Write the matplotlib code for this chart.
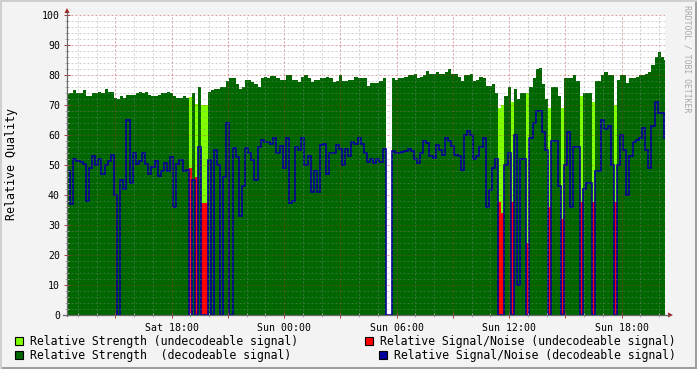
import numpy as np
import matplotlib
matplotlib.use("Agg")
import matplotlib.pyplot as plt
from matplotlib.patches import Rectangle, Polygon
from matplotlib.lines import Line2D

# ---------------- data (10-minute steps, starting Sat 12:25) ----------------
start_hour = 12 + 25 / 60          # hours since Sat 00:00
step_hours = 10 / 60

strength = [
    74, 74, 75, 74, 74, 75, 73, 73, 74, 74, 74.5, 74, 75.5, 74.5, 74.5, 72.5, 72, 73, 72.5, 73.5,
    73.5, 73.5, 74, 74.5, 74, 74.5, 73.5, 73, 73, 73.5, 74, 74, 74.5, 74, 73, 72.5, 72.5, 73, 72.5,
    72.8, 74, 70.5, 76, 70, 70, 74.5, 75, 75.5, 75.5, 76, 76, 78, 79,
    79, 77, 75.5, 76, 78.3, 78.3, 77.8, 77, 76, 79, 79.5, 79, 79.7, 79.7, 79, 78.3, 78.3, 80, 80, 78.3,
    78.3, 77.8, 79.5, 80, 79, 77.8, 78.3, 78.3, 79, 79, 79.5, 79, 77.8, 78, 80, 78, 78, 78.3, 78.3, 79.5,
    79, 79,
    79, 76.5, 77.4, 77.4, 77.5, 78, 79, None, None, 79, 78.5, 79, 79, 79.4, 80, 80, 80.5, 79, 79.4, 80,
    81.5, 80.5, 80.5, 81, 80.5, 80.5, 81, 81.9, 80.5, 80.5, 79.5, 78, 80, 80, 80.5, 78, 78.3, 79.4, 79,
    76.5, 76.5, 77, 74,
    69, 70, 73, 76, 71, 75.5, 72, 74, 74, 74, 76, 79, 82, 82.5, 77, 72, 69, 76, 76, 73,
    69, 79, 79, 79, 80, 78, 73, 74, 74, 74, 71, 78, 78, 80, 81, 80, 80, 70, 78.3, 80,
    80, 77.4, 79, 79, 79.5, 80, 80, 80.5, 81, 83.3, 86, 87.8, 86, 85,
]

signal_noise = [
    48, 37, 52, 51.5, 51, 50.5, 38, 49, 53, 50, 52, 47, 50, 51.5, 53.5, 40, 0, 45, 42, 65,
    44, 54, 50.5, 51.5, 54, 50.5, 47, 49.5, 51.5, 46.5, 48, 50.8, 48, 52.8, 36, 50.5, 51.7, 48, 48.5,
    49, 45, 46, 56, 37.5, 37.5, 51.7, 0, 55, 50, 0, 46, 64, 0,
    55.6, 52.8, 33, 43, 55.6, 54, 51.7, 45, 56, 58.3, 57.8, 57.8, 57, 58.9, 54, 56.5, 49, 58.9, 37.2, 38,
    56, 55, 58.9, 50, 53, 41, 48, 41, 56.7, 57, 47, 54, 54, 56.7, 55.5, 50, 55.5, 53, 57.8, 57,
    58.9, 57,
    54, 51, 52, 50.8, 52, 51, 55.5, 0, 0, 54.8, 54, 54, 54.5, 54.8, 55.5, 54.8, 52, 50.6, 54, 58,
    57.2, 53, 52.5, 56.7, 55, 53.5, 58.9, 58, 56.5, 53.5, 53, 48.3, 60, 61.5, 60, 52, 53, 56, 59,
    36, 41.7, 49, 52,
    37.8, 34, 50, 54, 37.8, 60, 10, 52, 52, 24, 59, 64, 68, 68, 61, 55, 36, 58, 58, 43,
    32, 50, 61, 36, 56, 56, 37.8, 42, 44, 44, 37.8, 48, 48, 65, 62, 63, 50, 37.8, 50, 60,
    55, 40, 53, 57.8, 58.5, 59, 62.2, 55, 49, 63, 71, 67.5, 67.5, 59,
]

# D = decodeable, U = undecodeable, - = no data (run-length encoded)
status_runs = [
    ("D", 39), ("U", 1), ("D", 1), ("U", 1), ("D", 1), ("U", 2), ("D", 57), ("-", 2),
    ("D", 34), ("U", 2), ("D", 2), ("U", 1), ("D", 4), ("U", 1), ("D", 6), ("U", 1),
    ("D", 3), ("U", 1), ("D", 5), ("U", 1), ("D", 3), ("U", 1), ("D", 6), ("U", 1), ("D", 16),
]

legend_labels = [
    "Relative Strength (undecodeable signal)",
    "Relative Strength  (decodeable signal)",
    "Relative Signal/Noise (undecodeable signal)",
    "Relative Signal/Noise (decodeable signal)",
]
y_label = "Relative Quality"
watermark = "RRDTOOL / TOBI OETIKER"

# ---------------- derived series ----------------
status = np.array([s for s, n in status_runs for _ in range(n)])
st = np.array([np.nan if v is None else v for v in strength], dtype=float)
sn = np.array(signal_noise, dtype=float)
n = len(st)
edges = start_hour + np.arange(n + 1) * step_hours

dec = status == "D"
und = status == "U"
st0 = np.nan_to_num(st)
dark_h = np.where(dec, st0, 0.0)
light_h = np.where(und, st0, 0.0)
red_h = np.where(und, sn, 0.0)
blue_v = np.where(dec, sn, 0.0)

# ---------------- styling ----------------
W, H = 697, 369
C_DARK = "#006600"
C_LIGHT = "#80FF00"
C_RED = "#FF0000"
C_BLUE = "#000099"
MONO = "DejaVu Sans Mono"

def P(x, y):
    return (x / W, 1 - y / H)

fig = plt.figure(figsize=(W / 100, H / 100), dpi=100, facecolor="#F3F3F3")
ax = fig.add_axes([67 / W, (H - 315) / H, 598 / W, 300 / H])
ax.set_facecolor("white")

ax.stairs(dark_h, edges, fill=True, color=C_DARK, lw=0, zorder=1)
ax.stairs(light_h, edges, fill=True, color=C_LIGHT, lw=0, zorder=1.1)
ax.stairs(red_h, edges, fill=True, color=C_RED, lw=0, zorder=1.2)
ax.stairs(blue_v, edges, baseline=None, color=C_BLUE, lw=1.2, zorder=1.3)

ax.set_xlim(start_hour, start_hour + 598 / 18.75)
ax.set_ylim(0, 100)

xmaj = np.arange(15, 45, 3)
ax.set_xticks(xmaj)
ax.set_xticks(np.arange(13, 45, 1), minor=True)
xlabels = []
for h in xmaj:
    if h % 6 == 0:
        day = "Sat" if h < 24 else "Sun"
        xlabels.append(f"{day} {int(h % 24):02d}:00")
    else:
        xlabels.append("")
ax.set_xticklabels(xlabels, fontfamily=MONO, fontsize=7.1)
ax.set_yticks(np.arange(0, 101, 10))
ax.set_yticks(np.arange(0, 101, 2), minor=True)
ax.set_yticklabels([str(v) for v in range(0, 101, 10)], fontfamily=MONO, fontsize=7.1)

dash = (0, (2.0, 2.0))
ax.grid(which="minor", color="#8C8C8C", alpha=0.4, lw=0.72, ls=dash)
ax.grid(which="major", color="#B03030", alpha=0.45, lw=0.72, ls=dash)
ax.set_axisbelow(False)

ax.tick_params(which="major", axis="both", direction="inout", length=4, width=0.72,
               color="#A04040", pad=3)
ax.tick_params(which="minor", axis="both", direction="inout", length=2.5, width=0.72,
               color="#B0B0B0")
ax.tick_params(axis="x", which="major", pad=3.5)
for s in ax.spines.values():
    s.set_visible(False)

# axis lines + arrows
fig.add_artist(Line2D(*zip(P(67, 316), P(67, 12)), color="#6A6A6A", lw=0.9))
fig.add_artist(Line2D(*zip(P(63, 315), P(669, 315)), color="#6A6A6A", lw=0.9))
fig.add_artist(Polygon([P(64.5, 13), P(69.5, 13), P(67, 8)], closed=True,
                       facecolor="#A02020", edgecolor="none"))
fig.add_artist(Polygon([P(668, 312.5), P(668, 317.5), P(673, 315)], closed=True,
                       facecolor="#A02020", edgecolor="none"))

# y label and watermark
fig.text(*P(12, 164), y_label, rotation=90, ha="center", va="center",
         fontfamily=MONO, fontsize=8.4)
fig.text(*P(687, 5), watermark, rotation=270, ha="center", va="top",
         fontfamily=MONO, fontsize=5.9, color="#A8A8A8")

# legend
legend_items = [
    (15, 341, 30, C_LIGHT, legend_labels[0]),
    (15, 355, 30, C_DARK, legend_labels[1]),
    (365, 341, 380, C_RED, legend_labels[2]),
    (379, 355, 394, C_BLUE, legend_labels[3]),
]
for bx, by, tx, col, lab in legend_items:
    x0, y0 = P(bx, by + 4)
    fig.add_artist(Rectangle((x0, y0), 8 / W, 8 / H, transform=fig.transFigure,
                             facecolor=col, edgecolor="black", lw=0.8))
    fig.text(*P(tx, by), lab, ha="left", va="center", fontfamily=MONO, fontsize=8.3)

# 3D frame
fig.add_artist(Rectangle((0, 0), 1, 2 / H, transform=fig.transFigure, facecolor="#9E9E9E", edgecolor="none"))
fig.add_artist(Rectangle((1 - 2 / W, 0), 2 / W, 1, transform=fig.transFigure, facecolor="#9E9E9E", edgecolor="none"))
fig.add_artist(Rectangle((0, 1 - 2 / H), 1, 2 / H, transform=fig.transFigure, facecolor="#CFCFCF", edgecolor="none"))
fig.add_artist(Rectangle((0, 0), 2 / W, 1, transform=fig.transFigure, facecolor="#CFCFCF", edgecolor="none"))

fig.savefig("out.png", dpi=100, facecolor=fig.get_facecolor())
